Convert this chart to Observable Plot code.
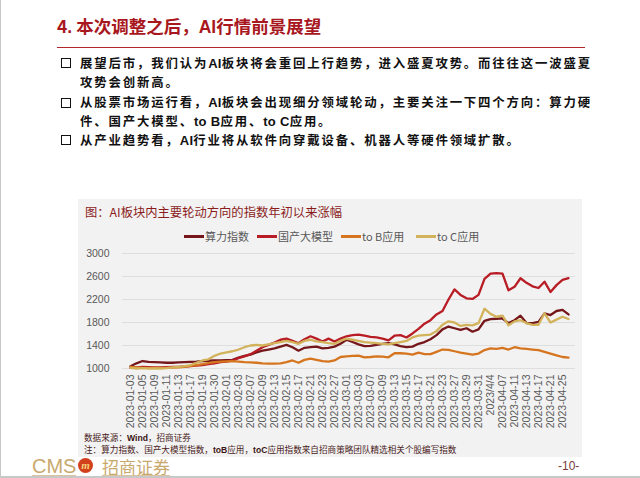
<!DOCTYPE html>
<html><head><meta charset="utf-8">
<script src="https://cdn.jsdelivr.net/npm/d3@7"></script>
<script src="https://cdn.jsdelivr.net/npm/@observablehq/plot@0.6"></script>
<style>
body{margin:0;background:#fff;}
#page{position:relative;width:640px;height:478px;overflow:hidden;background:#fff;font-family:"Noto Sans CJK SC","Liberation Sans",sans-serif;}
.abs{position:absolute;white-space:nowrap;}
#title{left:57px;top:15px;font-size:17.5px;line-height:22px;font-weight:700;color:#a8171d;}
#title .lat{font-family:"Liberation Sans",Arial,sans-serif;font-weight:700;}
#rule{left:57px;top:47px;width:528px;height:0;border-top:1.5px solid #b3262b;}
.bl{font-size:12.4px;line-height:18px;color:#111;font-weight:700;letter-spacing:1.85px;}
.bl b{font-family:"Liberation Sans",Arial,sans-serif;font-weight:700;letter-spacing:0.3px;font-size:13px;}
.box{position:absolute;width:8px;height:8px;border:1.5px solid #111;left:61px;}
#chartbox{left:78px;top:199px;width:504px;height:258px;background:#f2f2f2;}
#ctitle{left:85px;top:204px;font-size:12.3px;line-height:16px;color:#8b1c1c;}
.lg{font-size:11px;line-height:14px;color:#595959;top:229px;}
.sw{position:absolute;top:235px;width:20px;height:3px;}
.fn{font-size:8.6px;line-height:10px;color:#4a1c1c;}
.fn b{font-family:"Liberation Sans",Arial,sans-serif;font-weight:700;color:#3a1414;}
#chart{left:67px;top:244px;}
</style></head><body>
<div id="page">
  <div style="position:absolute;left:0;top:0;width:1px;height:478px;background:#c8c8c8"></div>
  <div class="abs" id="title">4<span class="lat">.</span> 本次调整之后，<span class="lat">AI</span>行情前景展望</div>
  <div class="abs" id="rule"></div>

  <div class="box" style="top:58px"></div>
  <div class="abs bl" style="left:80px;top:53.5px">展望后市，我们认为<b>AI</b>板块将会重回上行趋势，进入盛夏攻势。而往往这一波盛夏<br>攻势会创新高。</div>

  <div class="box" style="top:98px"></div>
  <div class="abs bl" style="left:80px;top:93px">从股票市场运行看，<b>AI</b>板块会出现细分领域轮动，主要关注一下四个方向：算力硬<br>件、国产大模型、<b>to B</b>应用、<b>to C</b>应用。</div>

  <div class="box" style="top:135px"></div>
  <div class="abs bl" style="left:80px;top:131px">从产业趋势看，<b>AI</b>行业将从软件向穿戴设备、机器人等硬件领域扩散。</div>

  <div class="abs" id="chartbox"></div>
  <div class="abs" id="ctitle">图：AI板块内主要轮动方向的指数年初以来涨幅</div>
  <div id="legend"></div>
  <div class="abs" id="chart"></div>

  <div class="abs fn" style="left:84px;top:432px">数据来源：<b>Wind</b>，招商证券</div>
  <div class="abs fn" style="left:84px;top:444px">注：算力指数、国产大模型指数，<b>toB</b>应用，<b>toC</b>应用指数来自招商策略团队精选相关个股编写指数</div>

  <div class="abs" style="left:32px;top:458px;font-family:'Liberation Sans',Arial,sans-serif;font-size:20px;line-height:17px;color:#c9a86e">CMS</div>
  <div class="abs" style="left:78px;top:458px;width:15px;height:15px;border-radius:50%;background:#d2401c;color:#f5d27a;font-size:11px;line-height:14px;text-align:center;font-family:'Liberation Serif',serif;font-style:italic;font-weight:700">m</div>
  <div class="abs" style="left:102px;top:459px;font-size:17px;line-height:15px;color:#c9a86e">招商证券</div>
  <div class="abs" style="left:32px;top:475px;width:44px;height:1px;background:#d8c49e"></div>
  <div class="abs" style="left:102px;top:475px;width:68px;height:1px;background:#d8c49e"></div>
  <div class="abs" style="left:558px;top:459px;font-family:'Liberation Sans',Arial,sans-serif;font-size:12px;line-height:14px;color:#7a3b3b">-10-</div>
  <div style="position:absolute;left:0;top:476px;width:640px;height:2px;background:#c8c8c8"></div>
</div>
<script>
const dates = ["2023-01-03","2023-01-04","2023-01-05","2023-01-06","2023-01-09","2023-01-10","2023-01-11","2023-01-12","2023-01-13","2023-01-16",
"2023-01-17","2023-01-18","2023-01-19","2023-01-20","2023-01-30","2023-01-31","2023-02-01","2023-02-02","2023-02-03","2023-02-06",
"2023-02-07","2023-02-08","2023-02-09","2023-02-10","2023-02-13","2023-02-14","2023-02-15","2023-02-16","2023-02-17","2023-02-20",
"2023-02-21","2023-02-22","2023-02-23","2023-02-24","2023-02-27","2023-02-28","2023-03-01","2023-03-02","2023-03-03","2023-03-06",
"2023-03-07","2023-03-08","2023-03-09","2023-03-10","2023-03-13","2023-03-14","2023-03-15","2023-03-16","2023-03-17","2023-03-20",
"2023-03-21","2023-03-22","2023-03-23","2023-03-24","2023-03-27","2023-03-28","2023-03-29","2023-03-30","2023-03-31","2023-04-03",
"2023/4/4","2023-04-06","2023-04-07","2023-04-10","2023-04-11","2023-04-12","2023-04-13","2023-04-14","2023-04-17","2023-04-19",
"2023-04-21","2023-04-24","2023-04-25","2023-04-26"];
const tickLabels = ["2023-01-03","2023-01-05","2023-01-09","2023-01-11","2023-01-13","2023-01-17","2023-01-19","2023-01-30","2023-02-01",
"2023-02-03","2023-02-07","2023-02-09","2023-02-13","2023-02-15","2023-02-17","2023-02-21","2023-02-23","2023-02-27","2023-03-01",
"2023-03-03","2023-03-07","2023-03-09","2023-03-13","2023-03-15","2023-03-17","2023-03-21","2023-03-23","2023-03-27","2023-03-29",
"2023-03-31","2023/4/4","2023-04-07","2023-04-11","2023-04-13","2023-04-17","2023-04-21","2023-04-25"];
const yTicks = [1000,1400,1800,2200,2600,3000];
const seriesNames = ["算力指数","国产大模型","to B应用","to C应用"];
const seriesColors = ["#74161a","#b81c24","#d6751f","#d2b35c"];

const suanli = [1040,1090,1130,1115,1110,1105,1100,1100,1105,1110,1115,1120,1130,1135,1140,1140,1145,1150,1190,1220,
1240,1280,1310,1330,1350,1380,1410,1370,1310,1360,1370,1380,1350,1360,1380,1430,1500,1460,1420,1390,
1395,1410,1430,1440,1420,1390,1370,1380,1430,1460,1510,1580,1680,1730,1700,1670,1700,1640,1680,1830,
1860,1865,1870,1790,1840,1920,1790,1790,1810,1960,1930,2000,2020,1940];
const guochan = [1010,1020,1030,1025,1020,1020,1025,1030,1030,1035,1040,1050,1060,1075,1090,1110,1120,1140,1180,1210,
1250,1310,1370,1410,1450,1500,1520,1480,1440,1510,1560,1520,1470,1520,1470,1520,1560,1580,1590,1570,
1550,1540,1520,1490,1570,1580,1540,1610,1690,1780,1840,1940,2000,2200,2375,2280,2220,2210,2280,2560,
2650,2660,2650,2360,2420,2570,2490,2430,2400,2510,2330,2450,2540,2570];
const toB = [1030,1020,1010,1010,1010,1010,1010,1015,1020,1030,1045,1060,1075,1095,1110,1120,1125,1130,1120,1110,
1105,1100,1090,1085,1085,1090,1110,1140,1100,1150,1170,1150,1130,1120,1140,1200,1210,1220,1225,1195,
1200,1210,1205,1195,1265,1265,1260,1240,1275,1250,1250,1290,1330,1325,1300,1275,1260,1240,1260,1320,
1350,1340,1360,1330,1370,1350,1340,1330,1320,1290,1260,1230,1200,1190];
const toC = [1010,1000,1005,1000,1000,1000,1005,1020,1030,1040,1060,1100,1140,1160,1220,1260,1280,1300,1330,1370,
1400,1410,1400,1420,1440,1460,1480,1460,1430,1480,1500,1470,1460,1440,1430,1480,1520,1500,1480,1460,
1450,1440,1430,1420,1440,1460,1480,1540,1570,1580,1590,1650,1760,1820,1800,1740,1760,1750,1790,2040,
1950,1900,1920,1750,1820,1840,1790,1760,1760,1960,1800,1850,1900,1860];

const seriesValues = [suanli, guochan, toB, toC];
const rows = seriesValues.flatMap((vals, s) => vals.map((v, i) => ({date: dates[i], value: v, series: seriesNames[s]})));

// legend
const legendX = [184, 257, 341, 416];
const legend = document.getElementById("legend");
seriesNames.forEach((name, k) => {
  const sw = document.createElement("div");
  sw.className = "sw";
  sw.style.left = legendX[k] + "px";
  sw.style.background = seriesColors[k];
  legend.appendChild(sw);
  const t = document.createElement("div");
  t.className = "abs lg";
  t.style.left = (legendX[k] + 21) + "px";
  t.textContent = name;
  legend.appendChild(t);
});

const chart = Plot.plot({
  width: 516, height: 190,
  marginLeft: 55, marginRight: 8, marginTop: 9, marginBottom: 66,
  style: {background: "transparent", fontFamily: "'Liberation Sans', Arial, sans-serif", fontSize: "10.5px", color: "#595959", overflow: "visible"},
  x: {type: "point", domain: dates, padding: 0.5},
  y: {domain: [1000, 3000]},
  color: {domain: seriesNames, range: seriesColors},
  marks: [
    Plot.ruleY(yTicks, {stroke: "#dedede", strokeWidth: 1}),
    Plot.axisY({ticks: yTicks, tickFormat: d => String(d), tickSize: 0, tickPadding: 13, label: null, fontSize: 10.5}),
    Plot.axisX({ticks: tickLabels, tickRotate: -90, tickSize: 0, tickPadding: 6, label: null, fontSize: 10.5}),
    Plot.line(rows, {x: "date", y: "value", z: "series", stroke: "series", strokeWidth: 2.3, clip: false})
  ]
});
document.getElementById("chart").appendChild(chart);
</script>
</body></html>
